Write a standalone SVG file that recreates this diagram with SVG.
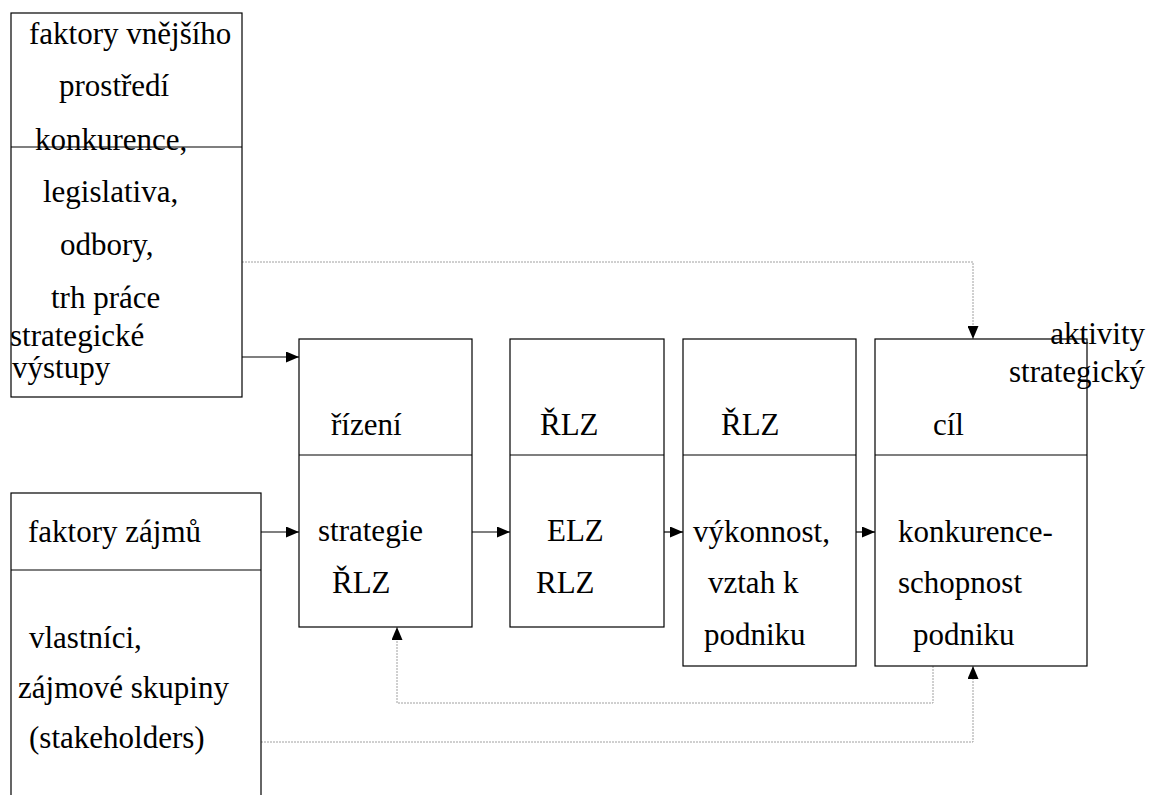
<svg xmlns="http://www.w3.org/2000/svg" width="1149" height="795" viewBox="0 0 1149 795">
<style>
.box{fill:none;stroke:#000;stroke-width:1.2}
.t{font-family:'Liberation Serif',serif;font-size:31px;fill:#000}
.solid{fill:none;stroke:#000;stroke-width:1.2}
.dot{fill:none;stroke:#a0a0a0;stroke-width:1;stroke-dasharray:2,1}
</style>
<defs>
<marker id="ah" markerUnits="userSpaceOnUse" viewBox="0 0 13 11" markerWidth="13" markerHeight="11" refX="13" refY="5.5" orient="auto">
<path d="M0,0 L13,5.5 L0,11 z" fill="#000"/>
</marker>
</defs>
<rect width="1149" height="795" fill="#fff"/>
<g id="connectors">
<line class="solid" x1="242" y1="357" x2="299" y2="357" marker-end="url(#ah)"/>
<line class="solid" x1="261" y1="532" x2="299" y2="532" marker-end="url(#ah)"/>
<line class="solid" x1="472" y1="532" x2="510" y2="532" marker-end="url(#ah)"/>
<line class="solid" x1="664" y1="532" x2="683" y2="532" marker-end="url(#ah)"/>
<line class="solid" x1="856" y1="532" x2="875" y2="532" marker-end="url(#ah)"/>
<path class="dot" d="M242,262 H973 V339" marker-end="url(#ah)"/>
<path class="dot" d="M933,666 V703 H397 V627" marker-end="url(#ah)"/>
<path class="dot" d="M261,742 H973 V666" marker-end="url(#ah)"/>
</g>
<g id="external" font-family="Liberation Serif, serif">
<rect class="box" x="11" y="13" width="231" height="384"/>
<line class="box" x1="11" y1="147" x2="242" y2="147"/>
<text class="t" x="29" y="44">faktory vnějšího</text>
<text class="t" x="59" y="96">prostředí</text>
<text class="t" x="35" y="150">konkurence,</text>
<text class="t" x="43" y="202">legislativa,</text>
<text class="t" x="60" y="255">odbory,</text>
<text class="t" x="51" y="308">trh práce</text>
<text class="t" x="10" y="346">strategické</text>
<text class="t" x="12" y="378">výstupy</text>
</g>
<g id="interests">
<rect class="box" x="11" y="493" width="250" height="320"/>
<line class="box" x1="11" y1="570" x2="261" y2="570"/>
<text class="t" x="28" y="542">faktory zájmů</text>
<text class="t" x="29" y="648">vlastníci,</text>
<text class="t" x="18" y="698">zájmové skupiny</text>
<text class="t" x="29" y="748">(stakeholders)</text>
</g>
<g id="strategy">
<rect class="box" x="299" y="339" width="173" height="288"/>
<line class="box" x1="299" y1="455" x2="472" y2="455"/>
<text class="t" x="331" y="435">řízení</text>
<text class="t" x="318" y="541">strategie</text>
<text class="t" x="332" y="593">ŘLZ</text>
</g>
<g id="rlz">
<rect class="box" x="510" y="339" width="154" height="288"/>
<line class="box" x1="510" y1="455" x2="664" y2="455"/>
<text class="t" x="540" y="435">ŘLZ</text>
<text class="t" x="547" y="541">ELZ</text>
<text class="t" x="536" y="593">RLZ</text>
</g>
<g id="performance">
<rect class="box" x="683" y="339" width="173" height="327"/>
<line class="box" x1="683" y1="455" x2="856" y2="455"/>
<text class="t" x="721" y="435">ŘLZ</text>
<text class="t" x="693" y="542">výkonnost,</text>
<text class="t" x="708" y="593">vztah k</text>
<text class="t" x="704" y="645">podniku</text>
</g>
<g id="goal">
<rect class="box" x="875" y="339" width="212" height="327"/>
<line class="box" x1="875" y1="455" x2="1087" y2="455"/>
<text class="t" x="933" y="435">cíl</text>
<text class="t" x="898" y="542">konkurence-</text>
<text class="t" x="898" y="593">schopnost</text>
<text class="t" x="913" y="645">podniku</text>
<text class="t" x="1145" y="344" text-anchor="end">aktivity</text>
<text class="t" x="1145" y="382" text-anchor="end">strategický</text>
</g>
</svg>
